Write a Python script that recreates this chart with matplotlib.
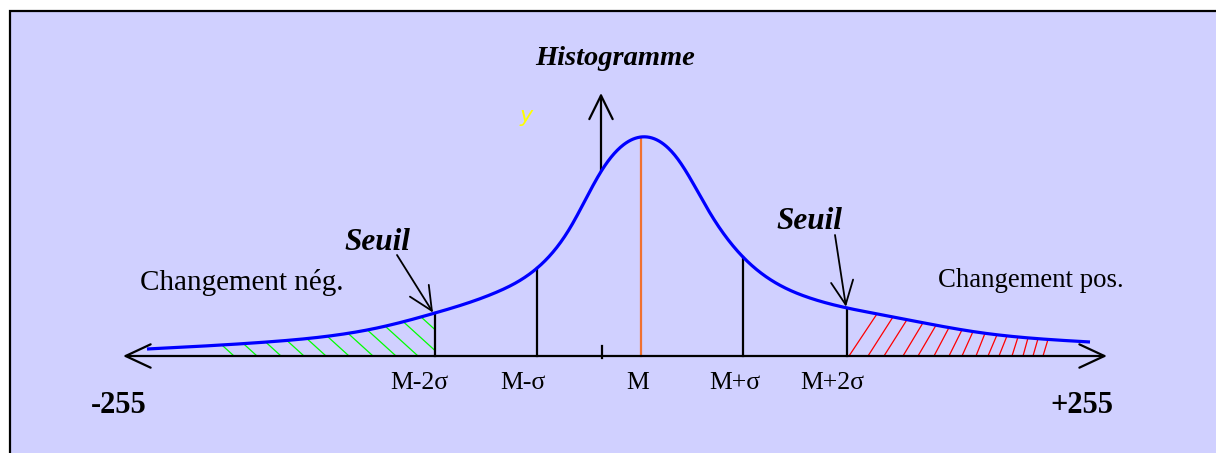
import numpy as np
import matplotlib.pyplot as plt
from matplotlib.patches import Rectangle, Polygon

plt.rcParams['font.family'] = ['Liberation Serif', 'DejaVu Serif']

# Courbe de l'histogramme : position sur l'axe et hauteur au-dessus de l'axe
courbe_x = [147, 267, 377, 435, 497, 536, 570, 602, 641, 677, 710, 743, 807, 883, 983, 1090]
courbe_h = [7, 14, 28, 43, 64, 87, 128, 186, 219, 198, 143, 99, 59, 41, 23, 14]

# Repères M, M +/- sigma
reperes_x = [435, 537, 641, 743, 847]
reperes_lab = ['M-2σ', 'M-σ', 'M', 'M+σ', 'M+2σ']
reperes_lab_x = [419, 523, 638, 735, 832]

# Hachures vertes (changement négatif) : pied des traits sur l'axe
vert_pieds = [234, 257, 281, 304, 326, 349, 373, 396, 418, 441, 464]
# Hachures rouges (changement positif) : pied et sommet des traits
rouge_pieds = [849, 868, 884, 903, 918, 934, 949, 962, 976, 988, 999, 1012, 1023, 1033, 1043]
rouge_sommets = [877, 893, 907, 923, 936, 949, 962, 973, 985, 997, 1007, 1018, 1028, 1038, 1048]


def spline_naturelle(xs, ys, xq):
    x = np.asarray(xs, float)
    y = np.asarray(ys, float)
    n = len(x)
    h = np.diff(x)
    A = np.zeros((n, n))
    r = np.zeros(n)
    A[0, 0] = A[-1, -1] = 1
    for i in range(1, n - 1):
        A[i, i - 1] = h[i - 1]
        A[i, i] = 2 * (h[i - 1] + h[i])
        A[i, i + 1] = h[i]
        r[i] = 3 * ((y[i + 1] - y[i]) / h[i] - (y[i] - y[i - 1]) / h[i - 1])
    c = np.linalg.solve(A, r)
    b = (y[1:] - y[:-1]) / h - h * (2 * c[:-1] + c[1:]) / 3
    d = (c[1:] - c[:-1]) / (3 * h)
    k = np.clip(np.searchsorted(x, xq) - 1, 0, n - 2)
    t = xq - x[k]
    return y[k] + b[k] * t + c[k] * t ** 2 + d[k] * t ** 3


cx = np.linspace(courbe_x[0], courbe_x[-1], 1200)
ch = spline_naturelle(courbe_x, courbe_h, cx)


def hauteur(x):
    return np.interp(x, cx, ch)


fig = plt.figure(figsize=(12.16, 4.53), dpi=100)
fig.patch.set_facecolor('white')
ax = fig.add_axes([0, 0, 1, 1])
ax.set_xlim(0, 1216)
ax.set_ylim(-97, 356)
ax.axis('off')

# cadre
ax.add_patch(Rectangle((10, -140), 1250, 485, facecolor='#D0D0FF', edgecolor='black',
                       linewidth=1.6, zorder=0))

# hachures vertes
zone = np.linspace(222, 435, 100)
poly = Polygon(np.column_stack([np.r_[zone, zone[::-1]], np.r_[hauteur(zone), np.zeros(100)]]),
               facecolor='none', edgecolor='none')
ax.add_patch(poly)
for b in vert_pieds:
    ln, = ax.plot([b, b - 1.1 * 80], [0, 80], color='#00FF00', lw=0.9, zorder=2)
    ln.set_clip_path(poly)

# hachures rouges
for b, t in zip(rouge_pieds, rouge_sommets):
    ax.plot([b, t], [0, hauteur(t)], color='#FF0000', lw=0.9, zorder=2)

# traits verticaux
for x, lab, lx in zip(reperes_x, reperes_lab, reperes_lab_x):
    col = '#F07030' if lab == 'M' else 'black'
    ax.plot([x, x], [0, hauteur(x)], color=col, lw=1.6, zorder=3)
    ax.text(lx, -33, lab, fontsize=18.5, ha='center', va='baseline')

fleche = dict(lw=1.6, color='black', shrinkA=0, shrinkB=0, mutation_scale=20)
# axe horizontal
ax.annotate('', xy=(1107, 0), xytext=(123, 0),
            arrowprops=dict(arrowstyle='<->,head_length=0.9,head_width=0.42', **fleche), zorder=3)
# axe vertical
ax.annotate('', xy=(601, 263), xytext=(601, hauteur(601)),
            arrowprops=dict(arrowstyle='->,head_length=0.85,head_width=0.42', **fleche), zorder=3)
ax.plot([602, 602], [-2, 10], color='black', lw=1.6, zorder=3)

# courbe
ax.plot(cx, ch, color='#0000FF', lw=2.3, zorder=4, solid_capstyle='butt')

# seuils
fleche_s = dict(lw=1.3, color='black', shrinkA=0, shrinkB=0, mutation_scale=20)
ax.annotate('', xy=(433, hauteur(433) + 1), xytext=(397, 101),
            arrowprops=dict(arrowstyle='->,head_length=0.85,head_width=0.4', **fleche_s), zorder=5)
ax.annotate('', xy=(846, hauteur(846) + 1), xytext=(835, 121),
            arrowprops=dict(arrowstyle='->,head_length=0.85,head_width=0.4', **fleche_s), zorder=5)
ax.text(377, 106, 'Seuil', fontsize=22.5, fontweight='bold', fontstyle='italic',
        ha='center', va='baseline')
ax.text(809, 127, 'Seuil', fontsize=22.5, fontweight='bold', fontstyle='italic',
        ha='center', va='baseline')

# textes
ax.text(615, 291, 'Histogramme', fontsize=20.5, fontweight='bold', fontstyle='italic',
        ha='center', va='baseline')
ax.text(526, 234, 'y', fontsize=16, fontstyle='italic', color='#FFFF00',
        ha='center', va='baseline', family='DejaVu Sans')
ax.text(140, 66, 'Changement nég.', fontsize=21, ha='left', va='baseline')
ax.text(938, 69, 'Changement pos.', fontsize=19.3, ha='left', va='baseline')
ax.text(119, -57, '-255', fontsize=22, fontweight='bold', ha='center', va='baseline')
ax.text(1082, -57, '+255', fontsize=22, fontweight='bold', ha='center', va='baseline')

fig.savefig('out.png', dpi=100, facecolor='white')
